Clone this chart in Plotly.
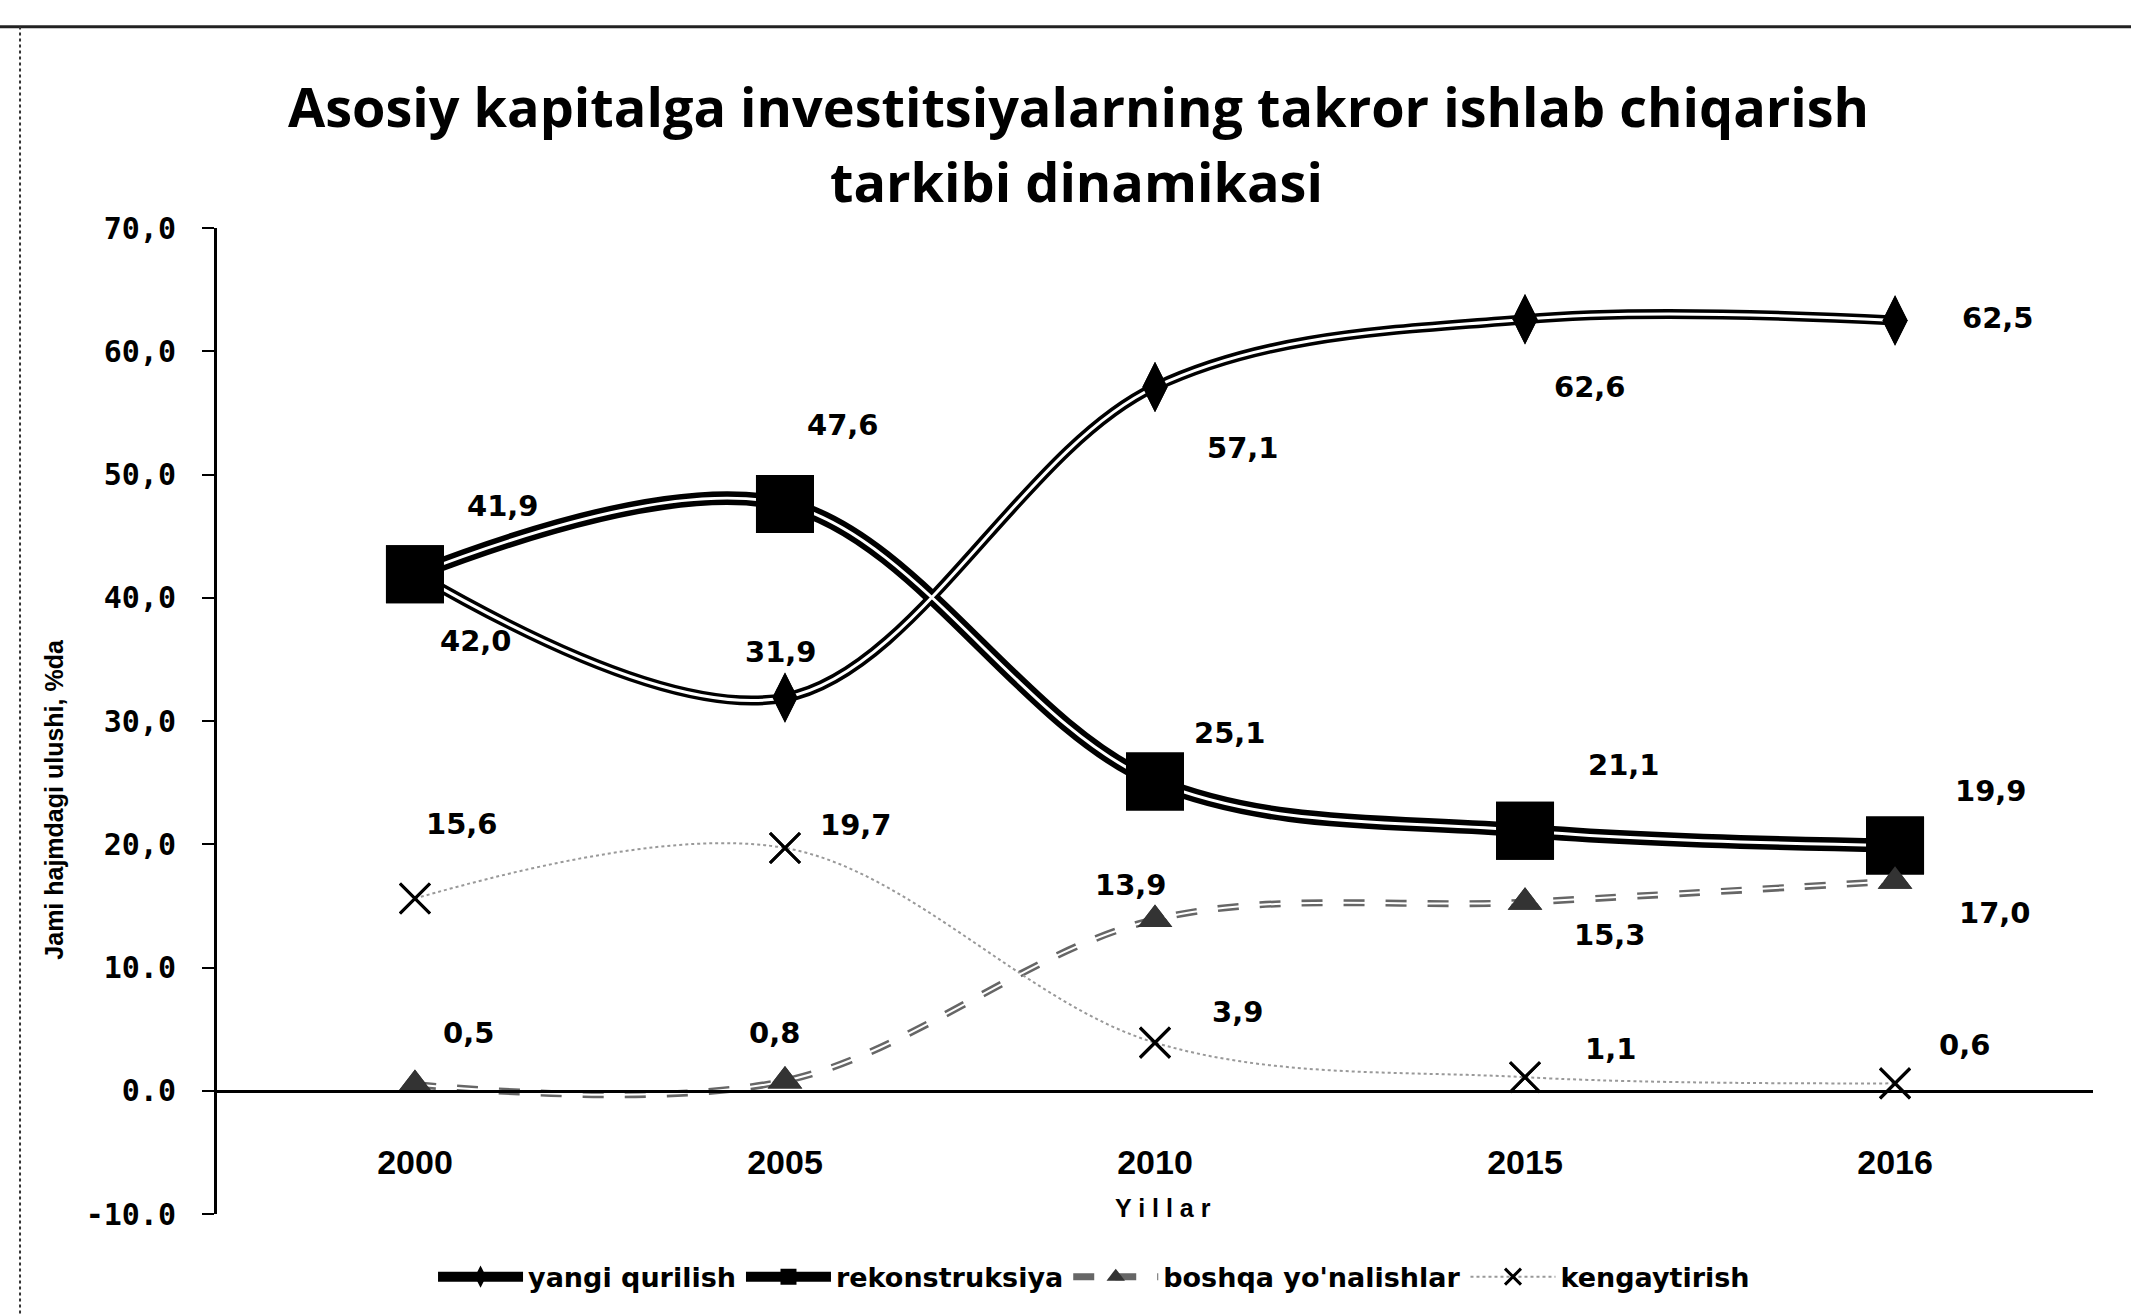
import plotly.graph_objects as go

# ---------------- data ----------------
years = ["2000", "2005", "2010", "2015", "2016"]
yangi_qurilish = [42.0, 31.9, 57.1, 62.6, 62.5]
rekonstruksiya = [41.9, 47.6, 25.1, 21.1, 19.9]
boshqa_yonalishlar = [0.5, 0.8, 13.9, 15.3, 17.0]
kengaytirish = [15.6, 19.7, 3.9, 1.1, 0.6]

series_names = ["yangi qurilish", "rekonstruksiya", "boshqa yo'nalishlar", "kengaytirish"]
y_tick_values = [-10, 0, 10, 20, 30, 40, 50, 60, 70]
y_tick_labels = ["-10.0", "0.0", "10.0", "20,0", "30,0", "40,0", "50,0", "60,0", "70,0"]

title_line1 = "Asosiy kapitalga investitsiyalarning takror ishlab chiqarish"
title_line2 = "tarkibi dinamikasi"
y_title = "Jami hajmdagi ulushi, %da"
x_title = "Y i l l a r"

# ---------------- styles ----------------
# pixel offsets (dx, dy) of each value label relative to its point
off_yangi = [(61, 68), (-4, -46), (88, 61), (65, 68), (103, -2)]
off_rekon = [(88, -68), (58, -79), (75, -48), (99, -66), (96, -54)]
off_boshqa = [(54, -52), (-10, -48), (-24, -34), (85, 33), (100, 32)]
off_keng = [(47, -74), (71, -23), (82, -31), (85, -28), (69, -38)]

def fmt(v):
    return f"{v:.1f}".replace(".", ",")

DIAM = dict(symbol="diamond-tall", size=36, color="black")
SQ = dict(symbol="square", size=58, color="black")
TRI = dict(symbol="triangle-up", size=30, color="#333333")
XM = dict(symbol="x-thin", size=30, color="black", line=dict(color="black", width=3))

fig = go.Figure()

# legend traces (outer lines + markers)
fig.add_trace(go.Scatter(
    x=years, y=yangi_qurilish, name=series_names[0], mode="lines+markers",
    line=dict(color="black", width=10, shape="spline", smoothing=1.0), marker=DIAM))
fig.add_trace(go.Scatter(
    x=years, y=rekonstruksiya, name=series_names[1], mode="lines+markers",
    line=dict(color="black", width=14, shape="spline", smoothing=1.0), marker=SQ))
fig.add_trace(go.Scatter(
    x=years, y=boshqa_yonalishlar, name=series_names[2], mode="lines+markers",
    line=dict(color="#666666", width=7, shape="spline", smoothing=1.0, dash="dash"),
    marker=TRI))
fig.add_trace(go.Scatter(
    x=years, y=kengaytirish, name=series_names[3], mode="lines+markers",
    line=dict(color="#999999", width=2, shape="spline", smoothing=1.0, dash="dot"),
    marker=XM))

# white inner lines for double-line effect
for ys, w in [(yangi_qurilish, 3), (rekonstruksiya, 3), (boshqa_yonalishlar, 2)]:
    fig.add_trace(go.Scatter(
        x=years, y=ys, mode="lines", showlegend=False, hoverinfo="skip",
        line=dict(color="white", width=w, shape="spline", smoothing=1.0)))

# markers on top
for ys, mk in [(yangi_qurilish, DIAM), (rekonstruksiya, SQ),
               (boshqa_yonalishlar, TRI), (kengaytirish, XM)]:
    fig.add_trace(go.Scatter(x=years, y=ys, mode="markers", showlegend=False, marker=mk))

label_font = dict(family="DejaVu Sans", size=29, color="black", weight="bold")
annotations = []
for ys, offs in [(yangi_qurilish, off_yangi), (rekonstruksiya, off_rekon),
                 (boshqa_yonalishlar, off_boshqa), (kengaytirish, off_keng)]:
    for i, (yv, (dx, dy)) in enumerate(zip(ys, offs)):
        annotations.append(dict(x=i, y=yv, xref="x", yref="y", text=fmt(yv),
                                showarrow=False, xshift=dx, yshift=-dy, font=label_font))

# titles
title_font = dict(family="Open Sans", size=54, color="black", weight="bold")
annotations.append(dict(x=0.459, y=1.124, xref="paper", yref="paper", showarrow=False,
                        xanchor="center", yanchor="middle", text=title_line1, font=title_font))
annotations.append(dict(x=0.458, y=1.048, xref="paper", yref="paper", showarrow=False,
                        xanchor="center", yanchor="middle", text=title_line2, font=title_font))
annotations.append(dict(x=-0.087, y=0.421, xref="paper", yref="paper", showarrow=False,
                        xanchor="center", yanchor="middle", text=y_title, textangle=-90,
                        font=dict(family="Liberation Sans", size=25, color="black", weight="bold")))
annotations.append(dict(x=0.504, y=-0.01, xref="paper", yref="paper", showarrow=False,
                        text=x_title,
                        font=dict(family="Liberation Sans", size=25, color="black", weight="bold")))

shapes = [
    dict(type="line", xref="paper", yref="paper", x0=-0.12, x1=1.03, y0=1.204, y1=1.204,
         line=dict(color="#222222", width=3)),
    dict(type="line", xref="paper", yref="paper", x0=-0.105, x1=-0.105, y0=-0.101, y1=1.204,
         line=dict(color="#333333", width=2, dash="dot")),
]

fig.update_layout(
    width=2131, height=1314,
    margin=dict(l=217, r=38, t=228, b=100),
    paper_bgcolor="white", plot_bgcolor="white",
    showlegend=True,
    legend=dict(orientation="h", x=0.4675, y=-0.064, xanchor="center", yanchor="middle",
                font=dict(family="DejaVu Sans", size=27, color="black", weight="bold"),
                itemwidth=85, tracegroupgap=0),
    annotations=annotations,
    shapes=shapes,
    xaxis=dict(type="category", range=[-0.535, 4.535], anchor="free", position=0.1247,
               showline=True, linecolor="black", linewidth=3, ticks="",
               showgrid=False, zeroline=False,
               tickfont=dict(family="Liberation Sans", size=34, color="black", weight="bold"),
               ticklabelstandoff=40),
    yaxis=dict(range=[-10, 70], tickvals=y_tick_values, ticktext=y_tick_labels,
               showline=True, linecolor="black", linewidth=3, ticks="outside", ticklen=12,
               tickwidth=2, tickcolor="black", showgrid=False, zeroline=False,
               tickfont=dict(family="DejaVu Sans Mono", size=30, color="black", weight="bold"),
               ticklabelstandoff=20),
)

fig.write_html("out.html", config={"displayModeBar": False},
               post_script="document.body.style.margin='0';document.body.style.overflow='hidden';")
